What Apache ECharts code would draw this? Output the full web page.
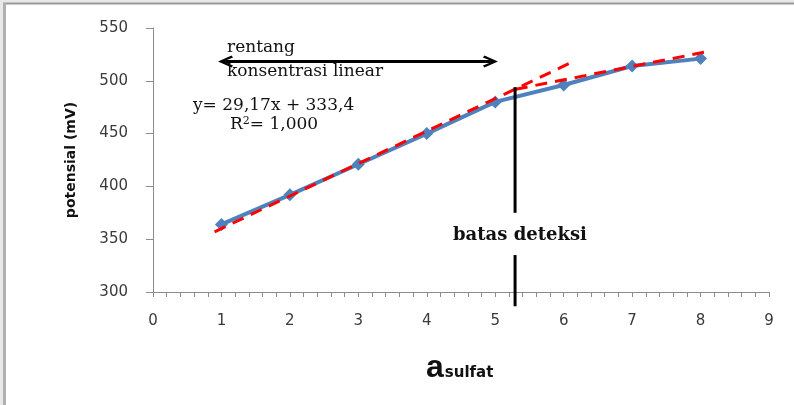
<!DOCTYPE html>
<html>
<head>
<meta charset="utf-8">
<script src="https://cdn.jsdelivr.net/npm/echarts@6/dist/echarts.min.js"></script>
<style>
html,body{margin:0;padding:0;background:#e8e8e8;}
#chart{width:794px;height:405px;}
</style>
</head>
<body>
<div id="chart"></div>
<script>
// ---- data ----
const sulfatActivity = [1, 2, 3, 4, 5, 6, 7, 8];
const potentialMv = [364, 392, 421, 450, 480, 496, 514, 521];

// linear trend (range 1..5) drawn as dashed red line, extended
const linearTrendX = [0.9, 6.1];
const linearTrendY = [357, 517];
// second trend above detection limit
const upperTrendX = [5.3, 8.05];
const upperTrendY = [492, 527];

// detection limit marker
const detectionX = 5.29;
const detectionSegmentsY = [[494, 375], [335, 286.5]];

// linear range arrow (symbol centres)
const rangeArrowX = [1.06, 4.93];
const rangeArrowY = 518.3;

// axis scales
const xMin = 0, xMax = 9, xStep = 1;
const yMin = 300, yMax = 550, yStep = 50;

const pairs = (xs, ys) => xs.map((x, i) => [x, ys[i]]);

const chevron = 'path://M0,9 L5,0 L10,9 L8.4,10 L5,3.4 L1.6,10 Z M4.3,1 L5.7,1 L5.7,10 L4.3,10 Z';

const chart = echarts.init(document.getElementById('chart'), null, {renderer: 'canvas'});

const serifFont = '"DejaVu Serif", serif';
const sansFont = '"DejaVu Sans", sans-serif';

const option = {
  animation: false,
  backgroundColor: '#e8e8e8',
  grid: {left: 153, right: 25, top: 28, bottom: 113, containLabel: false},
  xAxis: {
    type: 'value', min: xMin, max: xMax, interval: xStep,
    axisLine: {show: true, onZero: false, lineStyle: {color: '#8c8c8c', width: 1}},
    axisTick: {show: true, inside: false, length: 5, lineStyle: {color: '#8c8c8c'}},
    minorTick: {show: true, splitNumber: 5, length: 5, lineStyle: {color: '#8c8c8c'}},
    splitLine: {show: false},
    axisLabel: {margin: 22, fontFamily: sansFont, fontSize: 15, color: '#3a3a3a'}
  },
  yAxis: {
    type: 'value', min: yMin, max: yMax, interval: yStep,
    name: 'potensial (mV)', nameLocation: 'middle', nameGap: 75, nameRotate: 90,
    nameTextStyle: {fontFamily: sansFont, fontSize: 14, fontWeight: 'bold', color: '#111'},
    axisLine: {show: true, lineStyle: {color: '#8c8c8c', width: 1}},
    axisTick: {show: true, inside: false, length: 7, lineStyle: {color: '#8c8c8c'}},
    splitLine: {show: false},
    axisLabel: {margin: 25, fontFamily: sansFont, fontSize: 15, color: '#3a3a3a'}
  },
  graphic: [
    {type: 'rect', z: -10, silent: true, shape: {x: 5, y: 4, width: 789, height: 401}, style: {fill: '#ffffff'}},
    {type: 'line', z: -9, silent: true, shape: {x1: 3, y1: 3.5, x2: 794, y2: 3.5}, style: {stroke: '#999999', lineWidth: 2}},
    {type: 'line', z: -9, silent: true, shape: {x1: 4.5, y1: 3, x2: 4.5, y2: 405}, style: {stroke: '#b0b0b0', lineWidth: 3}},
    {type: 'text', z: 50, silent: true, left: 227, top: 39,
      style: {text: 'rentang', font: '17px ' + serifFont, fill: '#111'}},
    {type: 'text', z: 50, silent: true, left: 227, top: 63,
      style: {text: 'konsentrasi linear', font: '17px ' + serifFont, fill: '#111'}},
    {type: 'text', z: 50, silent: true, left: 193, top: 97,
      style: {text: 'y= 29,17x + 333,4', font: '17px ' + serifFont, fill: '#111'}},
    {type: 'text', z: 50, silent: true, left: 230, top: 116,
      style: {
        text: 'R{sup|2}= 1,000', font: '17px ' + serifFont, fill: '#111',
        rich: {sup: {fontSize: 11, fontFamily: serifFont, verticalAlign: 'top', lineHeight: 18, padding: [0, 0, 6, 0]}}
      }},
    {type: 'text', z: 50, silent: true, left: 453, top: 226,
      style: {text: 'batas deteksi', font: 'bold 18px ' + serifFont, fill: '#111'}},
    {type: 'text', z: 50, silent: true, left: 426, top: 352,
      style: {
        text: '{a|a}{s|sulfat}', fill: '#111',
        rich: {
          a: {fontFamily: '"Liberation Sans", Arial, sans-serif', fontWeight: 'bold', fontSize: 32, lineHeight: 32, verticalAlign: 'bottom'},
          s: {fontFamily: sansFont, fontWeight: 'bold', fontSize: 15, lineHeight: 32, verticalAlign: 'bottom', padding: [0, 0, 3, 1]}
        }
      }}
  ],
  series: [
    {
      name: 'potensial', type: 'line', z: 3,
      data: pairs(sulfatActivity, potentialMv),
      symbol: 'diamond', symbolSize: [13, 13], showSymbol: true,
      lineStyle: {color: '#4f81bd', width: 4},
      itemStyle: {color: '#4f81bd'}
    },
    {
      name: 'trend linear', type: 'line', z: 4, silent: true,
      data: pairs(linearTrendX, linearTrendY), showSymbol: false, symbol: 'none',
      lineStyle: {color: '#ff0000', width: 3, type: [12, 8]}
    },
    {
      name: 'trend atas', type: 'line', z: 4, silent: true,
      data: pairs(upperTrendX, upperTrendY), showSymbol: false, symbol: 'none',
      lineStyle: {color: '#ff0000', width: 3, type: [12, 8]}
    },
    ...detectionSegmentsY.map((seg, i) => ({
      name: 'batas deteksi ' + i, type: 'line', z: 5, silent: true, clip: false,
      data: [[detectionX, seg[0]], [detectionX, seg[1]]], showSymbol: false, symbol: 'none',
      lineStyle: {color: '#000000', width: 3}
    })),
    {
      name: 'rentang', type: 'line', z: 5, silent: true, clip: false, data: [],
      markLine: {
        silent: true, animation: false,
        symbol: [chevron, chevron], symbolSize: [12, 15],
        label: {show: false},
        lineStyle: {color: '#000000', width: 3, type: 'solid'},
        itemStyle: {color: '#000000'},
        data: [[{coord: [rangeArrowX[0], rangeArrowY]}, {coord: [rangeArrowX[1], rangeArrowY]}]]
      }
    }
  ]
};
chart.setOption(option);
</script>
</body>
</html>
